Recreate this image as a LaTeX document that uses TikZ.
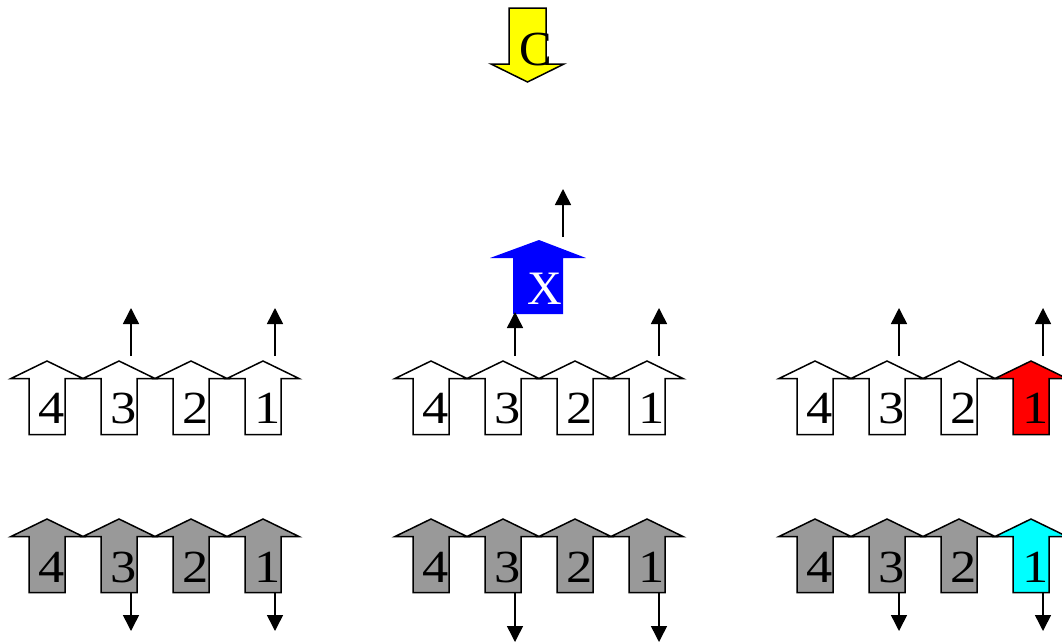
\documentclass[tikz,border=0pt]{standalone}
\usepackage{fontspec}
\setmainfont{Liberation Serif}
\usetikzlibrary{arrows.meta}
\definecolor{arrgray}{RGB}{153,153,153}
\definecolor{arrred}{RGB}{255,0,0}
\definecolor{arrcyan}{RGB}{0,255,255}
\definecolor{arrblue}{RGB}{0,0,255}
\definecolor{arryellow}{RGB}{255,255,0}
\tikzset{
  blk/.style={draw=black, line width=1.5pt, line join=miter},
  sig/.style={-{Triangle[length=16pt,width=16pt]}, line width=1.5pt},
  digit/.style={anchor=base, inner sep=0pt, font=\fontsize{46}{46}\selectfont, xscale=1.14, transform shape},
}
% up block arrow: tip x, tip y, fill colour
\newcommand\myblockup[3]{%
  \path[blk, fill=#3] (#1,#2) -- ++(36,17.5) -- ++(-18,0) -- ++(0,56) -- ++(-36,0)
    -- ++(0,-56) -- ++(-18,0) -- cycle;}
\begin{document}
\begin{tikzpicture}[x=1pt,y=-1pt]
\useasboundingbox (0,0) rectangle (1062,643);
\fill[white] (0,0) rectangle (1062,643);

% rows of block arrows
\foreach \g in {0,1,2}{
  \foreach \k/\lab in {0/4,1/3,2/2,3/1}{
    \pgfmathsetmacro{\tx}{47+384*\g+72*\k}
    \ifnum\g=2 \ifnum\k=3
      \def\topfill{arrred}\def\botfill{arrcyan}
    \else
      \def\topfill{white}\def\botfill{arrgray}
    \fi\else
      \def\topfill{white}\def\botfill{arrgray}
    \fi
    \myblockup{\tx}{361}{\topfill}
    \myblockup{\tx}{519}{\botfill}
    \node[digit] (t\g\lab) at (\tx+5,423.5) {\lab};
    \node[digit] (b\g\lab) at (\tx+5,582.5) {\lab};
  }
}

% yellow C arrow (down)
\path[blk, fill=arryellow] (509,8) -- (546,8) -- (546,64) -- (564,64) -- (527.5,82)
  -- (491,64) -- (509,64) -- cycle;
\node[anchor=base, inner sep=0pt, font=\fontsize{49}{49}\selectfont] (c) at (536,65.5) {C};

% blue X arrow (up)
\path[fill=arrblue] (539,240) -- (586,258) -- (563,258) -- (563,314) -- (513,314)
  -- (513,258) -- (490,258) -- cycle;
\node[anchor=base, inner sep=0pt, text=white, font=\fontsize{48}{48}\selectfont] (x) at (544.5,304) {X};

% signal arrows
\coordinate (xs) at (563,237);
\coordinate (xe) at (563,189);
\draw[sig] (xs) -- (xe);

% group 1
\coordinate (g0a) at (131,356); \coordinate (g0ae) at (131,308);
\coordinate (g0b) at (275,356); \coordinate (g0be) at (275,308);
\coordinate (g0c) at (131,593); \coordinate (g0ce) at (131,631);
\coordinate (g0d) at (275,593); \coordinate (g0de) at (275,631);
\draw[sig] (g0a) -- (g0ae);
\draw[sig] (g0b) -- (g0be);
\draw[sig] (g0c) -- (g0ce);
\draw[sig] (g0d) -- (g0de);

% group 2
\coordinate (g1a) at (515,356); \coordinate (g1ae) at (515,312);
\coordinate (g1b) at (659,356); \coordinate (g1be) at (659,308);
\coordinate (g1c) at (515,593); \coordinate (g1ce) at (515,642);
\coordinate (g1d) at (659,593); \coordinate (g1de) at (659,642);
\draw[sig] (g1a) -- (g1ae);
\draw[sig] (g1b) -- (g1be);
\draw[sig] (g1c) -- (g1ce);
\draw[sig] (g1d) -- (g1de);

% group 3
\coordinate (g2a) at (899,356); \coordinate (g2ae) at (899,308);
\coordinate (g2b) at (1043,356); \coordinate (g2be) at (1043,308);
\coordinate (g2c) at (899,593); \coordinate (g2ce) at (899,631);
\coordinate (g2d) at (1043,593); \coordinate (g2de) at (1043,631);
\draw[sig] (g2a) -- (g2ae);
\draw[sig] (g2b) -- (g2be);
\draw[sig] (g2c) -- (g2ce);
\draw[sig] (g2d) -- (g2de);
\end{tikzpicture}
\end{document}
